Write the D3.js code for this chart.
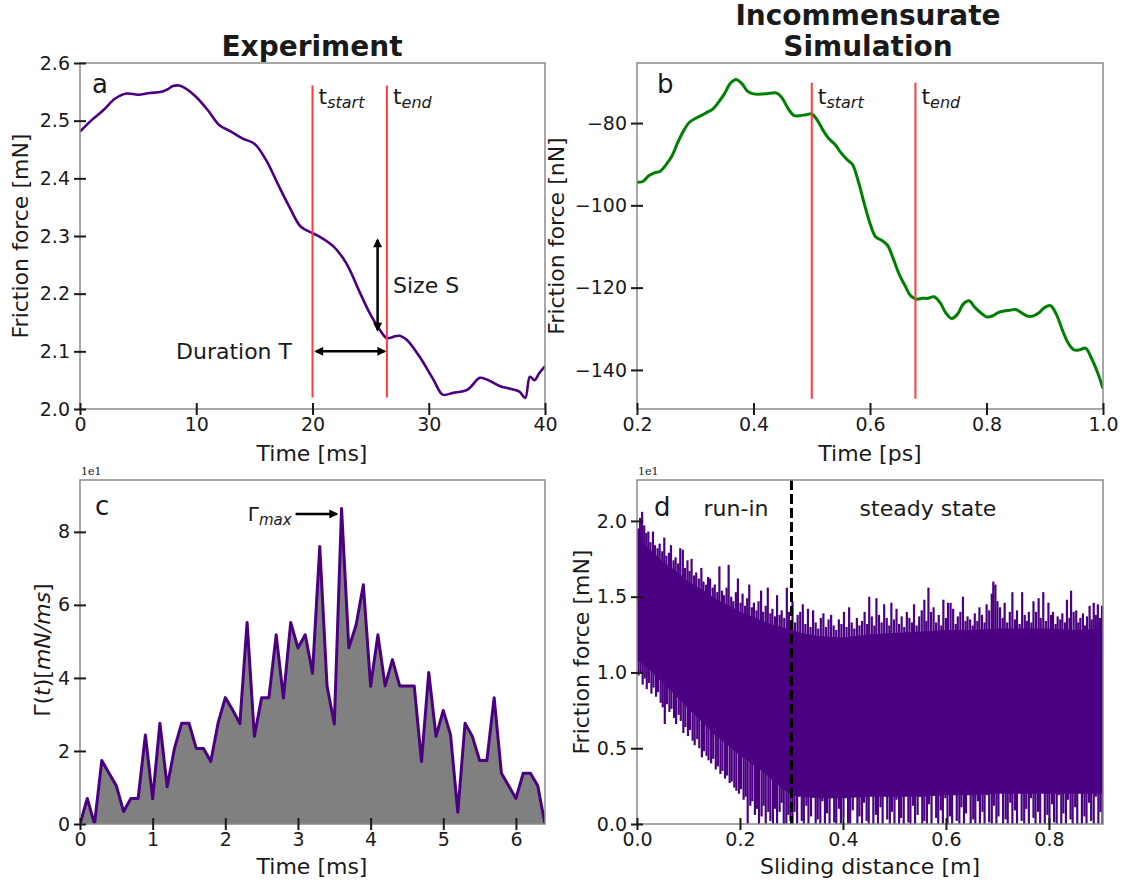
<!DOCTYPE html>
<html>
<head>
<meta charset="utf-8">
<script src="https://cdn.jsdelivr.net/npm/d3@7/dist/d3.min.js"></script>
<style>
body{margin:0;background:#fff;}
svg{font-family:"DejaVu Sans",sans-serif;}
</style>
</head>
<body>
<svg id="fig" width="1124" height="888"></svg>
<script>
// ---- panel a : experiment, friction force vs time
const timeA = [0,1,2,3,4,5,6,7,7.5,8,8.5,9,10,11,12,13,14,15,16,17,18,19,20,20.6,21.8,22.9,24.1,24.9,25.8,26.4,27.1,27.5,28.1,29.2,30.4,31.2,32.1,33.3,34.4,35,36.1,37,37.8,38.3,38.7,39.1,39.5,40];
const forceA = [2.481,2.501,2.518,2.538,2.547,2.545,2.548,2.550,2.554,2.560,2.561,2.557,2.541,2.518,2.492,2.481,2.469,2.460,2.432,2.391,2.351,2.316,2.305,2.299,2.282,2.253,2.201,2.167,2.137,2.123,2.126,2.127,2.120,2.091,2.051,2.025,2.028,2.033,2.054,2.051,2.040,2.035,2.030,2.019,2.056,2.050,2.062,2.074];
const eventA = [20, 26.4];
const eventRangeA = [2.02, 2.561];
const xTicksA = [0,10,20,30,40];
const yTicksA = [2.0,2.1,2.2,2.3,2.4,2.5,2.6];

// ---- panel b : simulation
const timeB = [0.20,0.21,0.22,0.23,0.24,0.25,0.26,0.27,0.28,0.29,0.30,0.31,0.32,0.33,0.34,0.35,0.36,0.37,0.38,0.39,0.40,0.42,0.44,
  0.45,0.46,0.47,0.48,0.49,0.50,0.51,0.52,0.53,0.54,0.55,0.56,0.57,0.58,0.59,0.60,0.61,0.62,0.63,0.64,0.65,0.66,0.67,0.68,0.69,0.70,
  0.71,0.72,0.73,0.74,0.75,0.76,0.77,0.78,0.79,0.80,0.81,0.82,0.83,0.84,0.85,0.86,0.87,0.88,0.89,0.90,0.91,0.92,0.93,0.94,0.95,0.96,
  0.97,0.98,0.99,1.00];
const forceB = [-94.4,-94.2,-92.8,-92.1,-91.7,-90.1,-88.0,-84.7,-81.9,-79.8,-78.9,-78.2,-77.4,-76.6,-74.9,-72.9,-70.4,-69.4,-70.4,-72.3,-72.9,-72.9,-72.7,
  -74.1,-76.6,-78.2,-78.2,-78.0,-77.8,-79.4,-81.9,-83.9,-85.2,-87.2,-88.8,-90.1,-94.2,-99.5,-104.4,-107.7,-108.5,-109.7,-113.0,-116.7,-119.5,-122.0,-122.8,-122.6,-122.6,
  -122.2,-123.6,-126.1,-127.5,-126.5,-124.0,-123.2,-124.8,-126.1,-127.1,-126.9,-126.1,-125.7,-125.5,-125.3,-126.1,-126.9,-126.9,-126.1,-124.8,-124.4,-126.5,-130.2,-133.4,-135.1,-135.1,
  -134.7,-137.1,-140.4,-144.5];
const eventB = [0.5, 0.678];
const eventRangeB = [-147.0, -70.2];
const xTicksB = [0.2,0.4,0.6,0.8,1.0];
const yTicksB = [-140,-120,-100,-80];

// ---- panel c : Gamma(t), values in units of 1e1 mN/ms
const timeC = [0,0.1,0.2,0.3,0.4,0.5,0.6,0.7,0.8,0.9,1.0,1.1,1.2,1.3,1.4,1.5,1.6,1.7,1.8,1.9,2.0,2.1,2.2,2.3,2.4,2.5,2.6,2.7,2.8,2.9,
  3.0,3.1,3.2,3.3,3.4,3.5,3.6,3.7,3.8,3.9,4.0,4.1,4.2,4.3,4.4,4.5,4.6,4.7,4.8,4.9,5.0,5.1,5.2,5.3,5.4,5.5,5.6,5.7,5.8,5.9,
  6.0,6.1,6.2,6.3,6.4];
const gammaC = [0,0.70,0,1.74,1.39,1.05,0.34,0.70,0.70,2.44,0.69,2.76,1.02,2.07,2.76,2.76,2.07,2.07,1.71,2.76,3.46,3.13,2.75,5.52,2.40,3.46,3.46,5.18,3.45,5.52,
  4.82,5.18,4.13,7.60,3.78,2.74,8.64,4.82,5.45,6.55,3.77,5.18,3.78,4.50,3.78,3.78,3.78,1.71,4.15,2.40,3.11,2.44,0.32,2.76,2.40,1.74,1.74,3.46,1.39,1.05,
  0.70,1.39,1.39,1.05,0];
const xTicksC = [0,1,2,3,4,5,6];
const yTicksC = [0,2,4,6,8];

// ---- panel d : friction force vs sliding distance (units of 1e1 mN)
// dense core of the signal
const bandX  = [0,0.01,0.03,0.05,0.08,0.10,0.13,0.15,0.18,0.20,0.23,0.25,0.28,0.30,0.32,0.35,0.40,0.45,0.50,0.55,0.60,0.65,0.70,0.75,0.80,0.85,0.905];
const bandHi = [1.85,1.86,1.80,1.73,1.66,1.60,1.54,1.49,1.44,1.40,1.36,1.33,1.30,1.28,1.26,1.24,1.23,1.25,1.26,1.27,1.28,1.28,1.29,1.29,1.29,1.28,1.29];
const bandLo = [1.08,1.06,1.00,0.93,0.83,0.76,0.66,0.59,0.51,0.45,0.38,0.33,0.24,0.19,0.18,0.17,0.17,0.18,0.18,0.18,0.19,0.19,0.20,0.20,0.20,0.20,0.20];
// oscillation peaks above the core [distance, force]
const upSpikes = [
  [0.002,1.95],[0.006,2.02],[0.010,2.06],[0.014,1.97],[0.018,1.92],[0.022,1.93],[0.026,1.86],[0.031,1.93],[0.035,1.84],[0.040,1.82],
  [0.044,1.85],[0.049,1.80],[0.053,1.89],[0.057,1.77],[0.062,1.79],[0.066,1.84],[0.071,1.74],[0.075,1.76],[0.080,1.72],[0.084,1.82],
  [0.089,1.81],[0.093,1.69],[0.098,1.74],[0.102,1.67],[0.106,1.75],[0.111,1.64],[0.115,1.66],[0.120,1.62],[0.125,1.69],[0.129,1.60],
  [0.134,1.58],[0.138,1.63],[0.142,1.62],[0.147,1.56],[0.151,1.58],[0.156,1.53],[0.160,1.70],[0.165,1.54],[0.169,1.51],[0.174,1.56],
  [0.178,1.71],[0.183,1.50],[0.187,1.47],[0.192,1.53],[0.196,1.62],[0.201,1.46],[0.205,1.52],[0.210,1.44],[0.214,1.49],[0.218,1.58],
  [0.223,1.43],[0.227,1.46],[0.232,1.41],[0.236,1.47],[0.241,1.54],[0.245,1.40],[0.250,1.44],[0.254,1.56],[0.259,1.39],[0.263,1.42],
  [0.268,1.37],[0.272,1.51],[0.277,1.38],[0.281,1.41],[0.286,1.36],[0.291,1.56],[0.295,1.40],
  [0.302,1.47],[0.307,1.33],[0.312,1.38],[0.317,1.40],[0.322,1.45],[0.327,1.32],[0.332,1.42],[0.337,1.30],[0.342,1.41],[0.347,1.33],
  [0.352,1.29],[0.357,1.36],[0.362,1.39],[0.367,1.30],[0.372,1.35],[0.377,1.38],[0.382,1.31],[0.387,1.28],[0.392,1.35],[0.397,1.32],
  [0.402,1.40],[0.407,1.30],[0.412,1.43],[0.417,1.33],[0.422,1.29],[0.427,1.36],[0.432,1.31],[0.437,1.34],[0.442,1.40],[0.447,1.32],
  [0.451,1.50],[0.456,1.37],[0.461,1.31],[0.465,1.49],[0.470,1.38],[0.475,1.33],[0.480,1.45],[0.485,1.36],[0.490,1.31],[0.494,1.46],
  [0.499,1.35],[0.504,1.42],[0.509,1.32],[0.514,1.37],[0.519,1.30],[0.524,1.40],[0.529,1.36],[0.534,1.33],[0.538,1.45],[0.543,1.31],
  [0.548,1.37],[0.553,1.41],[0.558,1.48],[0.562,1.34],[0.566,1.56],[0.571,1.40],[0.576,1.43],[0.581,1.33],[0.586,1.38],[0.591,1.31],
  [0.595,1.48],[0.600,1.36],[0.604,1.46],[0.609,1.46],[0.614,1.42],[0.619,1.32],[0.623,1.37],[0.628,1.40],[0.633,1.50],[0.638,1.34],
  [0.642,1.37],[0.647,1.35],[0.652,1.31],[0.656,1.39],[0.661,1.34],[0.665,1.43],[0.670,1.38],[0.675,1.33],[0.679,1.45],[0.684,1.41],
  [0.689,1.52],[0.692,1.60],[0.696,1.58],[0.700,1.47],[0.705,1.43],[0.710,1.36],[0.714,1.46],[0.719,1.33],[0.724,1.40],[0.729,1.53],
  [0.734,1.35],[0.738,1.41],[0.743,1.32],[0.748,1.53],[0.753,1.38],[0.757,1.34],[0.761,1.40],[0.766,1.33],[0.770,1.47],[0.775,1.40],
  [0.780,1.49],[0.784,1.36],[0.789,1.53],[0.794,1.34],[0.799,1.46],[0.804,1.38],[0.808,1.40],[0.813,1.32],[0.817,1.37],[0.822,1.35],
  [0.826,1.39],[0.831,1.33],[0.835,1.48],[0.840,1.36],[0.843,1.54],[0.848,1.40],[0.853,1.41],[0.857,1.33],[0.861,1.36],[0.866,1.39],
  [0.870,1.31],[0.874,1.37],[0.879,1.44],[0.883,1.35],[0.887,1.46],[0.891,1.38],[0.895,1.45],[0.899,1.36],[0.903,1.44]];
// oscillation minima below the core [distance, force]
const downSpikes = [
  [0.003,0.98],[0.007,1.00],[0.011,0.92],[0.015,0.96],[0.019,0.89],[0.023,0.93],[0.028,0.86],[0.032,0.90],[0.037,0.84],[0.041,0.87],
  [0.046,0.80],[0.050,0.77],[0.054,0.66],[0.058,0.79],[0.063,0.74],[0.067,0.76],[0.072,0.70],[0.076,0.66],[0.081,0.72],[0.085,0.68],
  [0.090,0.60],[0.094,0.64],[0.099,0.58],[0.103,0.62],[0.108,0.55],[0.112,0.52],[0.117,0.56],[0.121,0.50],[0.126,0.44],[0.130,0.48],
  [0.135,0.45],[0.139,0.42],[0.144,0.40],[0.148,0.43],[0.153,0.36],[0.157,0.38],[0.162,0.33],[0.166,0.35],[0.171,0.30],[0.175,0.32],
  [0.180,0.27],[0.184,0.28],[0.189,0.24],[0.193,0.22],[0.198,0.20],[0.202,0.23],[0.207,0.16],[0.211,0.18],[0.215,0.00],[0.220,0.12],
  [0.224,0.15],[0.229,0.06],[0.233,0.10],[0.237,0.00],[0.242,0.05],[0.246,0.12],[0.250,0.00],[0.255,0.08],[0.259,0.02],[0.264,0.00],
  [0.268,0.10],[0.272,0.00],[0.277,0.08],[0.281,0.14],[0.285,0.00],[0.290,0.00],[0.294,0.06],[0.298,0.02],
  [0.302,0.00],[0.306,0.08],[0.311,0.00],[0.315,0.18],[0.320,0.02],[0.324,0.00],[0.329,0.12],[0.333,0.00],[0.338,0.05],[0.342,0.22],
  [0.347,0.00],[0.351,0.03],[0.356,0.00],[0.360,0.15],[0.365,0.00],[0.369,0.07],[0.374,0.00],[0.378,0.20],[0.383,0.01],[0.387,0.00],
  [0.392,0.10],[0.396,0.00],[0.401,0.04],[0.405,0.17],[0.410,0.00],[0.414,0.00],[0.419,0.09],[0.423,0.24],[0.428,0.00],[0.432,0.05],
  [0.437,0.00],[0.441,0.14],[0.446,0.02],[0.450,0.00],[0.455,0.19],[0.459,0.00],[0.464,0.06],[0.468,0.00],[0.473,0.11],[0.477,0.00],
  [0.482,0.21],[0.486,0.03],[0.491,0.00],[0.495,0.08],[0.500,0.00],[0.504,0.16],[0.509,0.00],[0.513,0.04],[0.518,0.00],[0.522,0.25],
  [0.527,0.01],[0.531,0.00],[0.536,0.12],[0.540,0.00],[0.545,0.06],[0.549,0.18],[0.554,0.00],[0.558,0.02],[0.563,0.00],[0.567,0.13],
  [0.572,0.00],[0.576,0.22],[0.581,0.04],[0.585,0.00],[0.590,0.09],[0.594,0.00],[0.599,0.17],[0.603,0.00],[0.608,0.05],[0.612,0.00],
  [0.617,0.20],[0.621,0.02],[0.626,0.00],[0.630,0.11],[0.635,0.00],[0.639,0.07],[0.644,0.23],[0.648,0.00],[0.653,0.03],[0.657,0.00],
  [0.662,0.15],[0.666,0.00],[0.671,0.08],[0.675,0.00],[0.680,0.19],[0.684,0.01],[0.689,0.00],[0.693,0.12],[0.698,0.00],[0.702,0.05],
  [0.707,0.26],[0.711,0.00],[0.716,0.03],[0.720,0.00],[0.725,0.14],[0.729,0.00],[0.734,0.09],[0.738,0.00],[0.743,0.21],[0.747,0.02],
  [0.752,0.00],[0.756,0.10],[0.761,0.00],[0.765,0.17],[0.770,0.04],[0.774,0.00],[0.779,0.08],[0.783,0.00],[0.788,0.24],[0.792,0.00],
  [0.797,0.06],[0.801,0.00],[0.806,0.13],[0.810,0.01],[0.815,0.00],[0.819,0.19],[0.824,0.00],[0.828,0.07],[0.833,0.00],[0.837,0.16],
  [0.842,0.03],[0.846,0.00],[0.851,0.11],[0.855,0.00],[0.860,0.22],[0.864,0.00],[0.869,0.05],[0.873,0.00],[0.878,0.14],[0.882,0.02],
  [0.887,0.00],[0.891,0.18],[0.896,0.00],[0.900,0.08],[0.904,0.00]];
const spikeBase = 1.1;
const runInEnd = 0.3;
const xTicksD = [0,0.2,0.4,0.6,0.8];
const yTicksD = [0,0.5,1.0,1.5,2.0];

const purple = "#4b0082";
const svg = d3.select("#fig");
let clipCount = 0;

function makePanel(box, xDom, yDom)
{
    const g = svg.append("g").attr("transform","translate("+box.l+","+box.t+")");
    const w = box.r-box.l, h = box.b-box.t;
    const x = d3.scaleLinear().domain(xDom).range([0,w]);
    const y = d3.scaleLinear().domain(yDom).range([h,0]);
    const id = "clip"+(clipCount++);
    g.append("clipPath").attr("id",id).append("rect").attr("width",w).attr("height",h);
    const plot = g.append("g").attr("clip-path","url(#"+id+")");
    return {g:g, plot:plot, x:x, y:y, w:w, h:h};
}

function drawAxes(p, xt, yt, xf, yf)
{
    p.g.append("rect").attr("width",p.w).attr("height",p.h)
      .attr("fill","none").attr("stroke","#8a8a8a").attr("stroke-width",1.5);
    const gx = p.g.append("g").attr("transform","translate(0,"+p.h+")")
      .call(d3.axisBottom(p.x).tickValues(xt).tickFormat(d3.format(xf)).tickSizeOuter(0).tickSizeInner(6).tickPadding(3));
    const gy = p.g.append("g")
      .call(d3.axisLeft(p.y).tickValues(yt).tickFormat(d3.format(yf)).tickSizeOuter(0).tickSizeInner(6).tickPadding(4));
    gx.select(".domain").remove();
    gy.select(".domain").remove();
    gx.selectAll(".tick line").attr("y1",-6).attr("stroke","#1a1a1a").attr("stroke-width",2);
    gy.selectAll(".tick line").attr("x1",6).attr("stroke","#1a1a1a").attr("stroke-width",2);
    [gx,gy].forEach(a=>{
        a.attr("font-family",null).attr("font-size",null);
        a.selectAll("text").attr("font-size",19).attr("fill","#1a1a1a");
    });
}

function label(g, x, y, txt, size, opts)
{
    opts = opts || {};
    const t = g.append("text").attr("x",x).attr("y",y).attr("font-size",size).attr("fill","#1a1a1a")
      .attr("text-anchor",opts.anchor||"start").text(txt);
    if(opts.bold) t.attr("font-weight","bold");
    if(opts.rotate) t.attr("transform","rotate(-90,"+x+","+y+")");
    return t;
}

function subLabel(g, x, y, main, sub)
{
    const t = g.append("text").attr("x",x).attr("y",y).attr("font-size",22).attr("fill","#1a1a1a");
    t.append("tspan").text(main);
    t.append("tspan").attr("font-size",16).attr("font-style","italic").attr("dy",4).text(sub);
}

// arrow head marker
const defs = svg.append("defs");
defs.append("marker").attr("id","head").attr("viewBox","0 0 10 10")
  .attr("refX",8).attr("refY",5).attr("markerWidth",11).attr("markerHeight",9)
  .attr("markerUnits","userSpaceOnUse").attr("orient","auto-start-reverse")
  .append("path").attr("d","M0,0L10,5L0,10z").attr("fill","#000");

// ================= panel a
const pa = makePanel({l:80,r:545,t:63,b:409},[0,40],[2.0,2.6]);
const lineA = d3.line().x((d,i)=>pa.x(timeA[i])).y(d=>pa.y(d)).curve(d3.curveCatmullRom.alpha(0.5));
pa.plot.append("path").attr("d",lineA(forceA)).attr("fill","none").attr("stroke",purple).attr("stroke-width",2.6);
eventA.forEach(t=>{
    pa.plot.append("line").attr("x1",pa.x(t)).attr("x2",pa.x(t))
      .attr("y1",pa.y(eventRangeA[0])).attr("y2",pa.y(eventRangeA[1]))
      .attr("stroke","#ff3b3b").attr("stroke-width",2);
});
subLabel(pa.g, pa.x(eventA[0])+6, 41, "t", "start");
subLabel(pa.g, pa.x(eventA[1])+6, 41, "t", "end");
pa.g.append("line").attr("x1",pa.x(25.6)).attr("x2",pa.x(25.6)).attr("y1",pa.y(2.293)).attr("y2",pa.y(2.137))
  .attr("stroke","#000").attr("stroke-width",2.5).attr("marker-start","url(#head)").attr("marker-end","url(#head)");
pa.g.append("line").attr("x1",pa.x(20.3)).attr("x2",pa.x(26.2)).attr("y1",pa.y(2.1)).attr("y2",pa.y(2.1))
  .attr("stroke","#000").attr("stroke-width",2.5).attr("marker-start","url(#head)").attr("marker-end","url(#head)");
label(pa.g, 313, 230, "Size S", 22);
label(pa.g, 212, 296, "Duration T", 22, {anchor:"end"});
label(pa.g, 12, 30, "a", 26);
drawAxes(pa, xTicksA, yTicksA, "d", ".1f");
label(svg, 312, 56, "Experiment", 28, {anchor:"middle", bold:true});
label(svg, 312, 461, "Time [ms]", 22, {anchor:"middle"});
label(svg, 28, 236, "Friction force [mN]", 22, {anchor:"middle", rotate:true});

// ================= panel b
const pb = makePanel({l:637,r:1103,t:63,b:409},[0.2,1.0],[-149.5,-65.4]);
const lineB = d3.line().x((d,i)=>pb.x(timeB[i])).y(d=>pb.y(d)).curve(d3.curveCatmullRom.alpha(0.5));
pb.plot.append("path").attr("d",lineB(forceB)).attr("fill","none").attr("stroke","#008000").attr("stroke-width",3);
eventB.forEach(t=>{
    pb.plot.append("line").attr("x1",pb.x(t)).attr("x2",pb.x(t))
      .attr("y1",pb.y(eventRangeB[0])).attr("y2",pb.y(eventRangeB[1]))
      .attr("stroke","#ff3b3b").attr("stroke-width",2);
});
subLabel(pb.g, pb.x(eventB[0])+6, 41, "t", "start");
subLabel(pb.g, pb.x(eventB[1])+6, 41, "t", "end");
label(pb.g, 20, 30, "b", 26);
drawAxes(pb, xTicksB, yTicksB, ".1f", "d");
label(svg, 868, 25, "Incommensurate", 28, {anchor:"middle", bold:true});
label(svg, 868, 56, "Simulation", 28, {anchor:"middle", bold:true});
label(svg, 870, 461, "Time [ps]", 22, {anchor:"middle"});
label(svg, 564, 236, "Friction force [nN]", 22, {anchor:"middle", rotate:true});

// ================= panel c
const pc = makePanel({l:80,r:545,t:480,b:824},[0,6.4],[0,9.42]);
const areaC = d3.area().x((d,i)=>pc.x(timeC[i])).y0(pc.y(0)).y1(d=>pc.y(d));
const lineC = d3.line().x((d,i)=>pc.x(timeC[i])).y(d=>pc.y(d));
pc.plot.append("path").attr("d",areaC(gammaC)).attr("fill","#808080");
pc.plot.append("path").attr("d",lineC(gammaC)).attr("fill","none").attr("stroke",purple)
  .attr("stroke-width",3).attr("stroke-linejoin","round");
const peakC = d3.maxIndex(gammaC);
const px = pc.x(timeC[peakC]), py = pc.y(gammaC[peakC]);
pc.g.append("line").attr("x1",px-46).attr("x2",px-5).attr("y1",py+5.5).attr("y2",py+5.5)
  .attr("stroke","#000").attr("stroke-width",2.5).attr("marker-end","url(#head)");
const gm = pc.g.append("text").attr("x",px-50).attr("y",py+13).attr("text-anchor","end").attr("fill","#1a1a1a");
gm.append("tspan").attr("font-size",20).text("Γ");
gm.append("tspan").attr("font-size",15).attr("font-style","italic").attr("dy",4).text("max");
label(pc.g, 15, 35, "c", 26);
drawAxes(pc, xTicksC, yTicksC, "d", "d");
svg.append("text").attr("x",81).attr("y",475).attr("font-size",11).attr("font-family","DejaVu Serif").attr("fill","#1a1a1a").text("1e1");
label(svg, 312, 874, "Time [ms]", 22, {anchor:"middle"});
const yl = svg.append("text").attr("x",50).attr("y",650).attr("font-size",22).attr("fill","#1a1a1a")
  .attr("text-anchor","middle").attr("transform","rotate(-90,50,650)");
yl.append("tspan").text("Γ(");
yl.append("tspan").attr("font-style","italic").text("t");
yl.append("tspan").text(")[");
yl.append("tspan").attr("font-style","italic").text("mN/ms");
yl.append("tspan").text("]");

// ================= panel d
const pd = makePanel({l:637,r:1103,t:480,b:824},[0,0.905],[0,2.27]);
const areaD = d3.area().x((d,i)=>pd.x(bandX[i])).y0((d,i)=>pd.y(bandLo[i])).y1(d=>pd.y(d));
pd.plot.append("path").attr("d",areaD(bandHi)).attr("fill",purple);
pd.plot.selectAll(".up").data(upSpikes).enter().append("line").attr("class","up")
  .attr("x1",d=>pd.x(d[0])).attr("x2",d=>pd.x(d[0]))
  .attr("y1",pd.y(spikeBase)).attr("y2",d=>pd.y(d[1]))
  .attr("stroke",purple).attr("stroke-width",2.2);
pd.plot.selectAll(".dn").data(downSpikes).enter().append("line").attr("class","dn")
  .attr("x1",d=>pd.x(d[0])).attr("x2",d=>pd.x(d[0]))
  .attr("y1",pd.y(spikeBase)).attr("y2",d=>pd.y(d[1]))
  .attr("stroke",purple).attr("stroke-width",2.2);
pd.plot.append("line").attr("x1",pd.x(runInEnd)).attr("x2",pd.x(runInEnd)).attr("y1",0).attr("y2",pd.h)
  .attr("stroke","#000").attr("stroke-width",3).attr("stroke-dasharray","10,4");
label(pd.g, 17, 36, "d", 26);
label(pd.g, 99, 36, "run-in", 22, {anchor:"middle"});
label(pd.g, 291, 36, "steady state", 22, {anchor:"middle"});
drawAxes(pd, xTicksD, yTicksD, ".1f", ".1f");
svg.append("text").attr("x",638).attr("y",475).attr("font-size",11).attr("font-family","DejaVu Serif").attr("fill","#1a1a1a").text("1e1");
label(svg, 870, 874, "Sliding distance [m]", 22, {anchor:"middle"});
label(svg, 589, 652, "Friction force [mN]", 22, {anchor:"middle", rotate:true});
</script>
</body>
</html>
